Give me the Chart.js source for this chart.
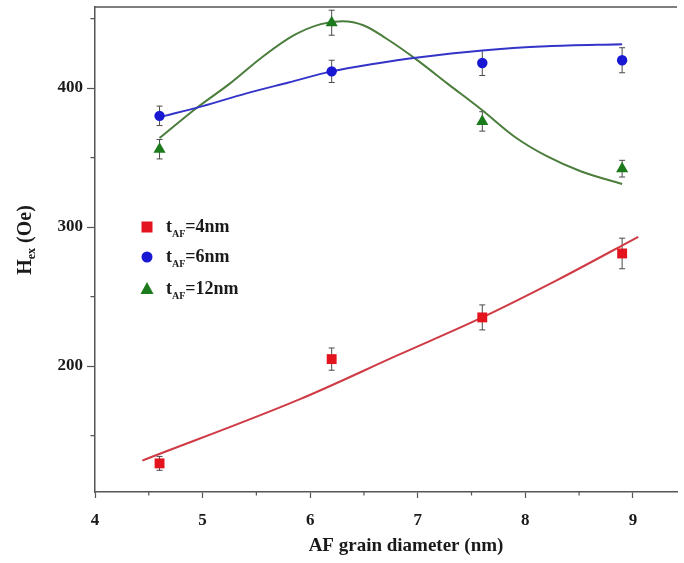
<!DOCTYPE html>
<html>
<head>
<meta charset="utf-8">
<script src="https://cdn.jsdelivr.net/npm/chart.js@4.4.0/dist/chart.umd.min.js"></script>
<style>
  html, body { margin: 0; padding: 0; background: #fff; }
  #box { width: 684px; height: 563px; }
</style>
</head>
<body>
<div id="box"><canvas id="grafico"></canvas></div>
<script>
// diametro do grao AF (nm), igual para as tres series
const diametro = [4.6, 6.2, 7.6, 8.9]

// Hex (Oe) e barras de erro para cada espessura tAF
const hex4 = [130, 205, 235, 281]
const err4 = [5, 8, 9, 11]
const hex6 = [380, 412, 418, 420]
const err6 = [7, 8, 9, 9]
const hex12 = [356, 447, 376, 342]
const err12 = [7, 9, 7, 6]

// curvas de ajuste, ponto a ponto
const fit4X = [4.44, 5.9, 6.82, 7.6, 8.3, 9.05]
const fit4Y = [132, 176, 208, 235, 262, 293]
const fit6X = [4.6, 5.0, 5.4, 5.8, 6.2, 6.6, 7.0, 7.6, 8.2, 8.9]
const fit6Y = [379, 387, 396, 404, 412, 417.5, 422, 427, 430, 431.5]
const fit12X = [4.6, 4.95, 5.25, 5.55, 5.85, 6.1, 6.3, 6.5, 6.7, 6.98, 7.28, 7.6, 7.9, 8.2, 8.52, 8.9]
const fit12Y = [364, 386, 403, 422, 438, 446, 448, 445, 436, 421, 403, 384, 365, 351, 340, 331]

const legendas = ['=4nm', '=6nm', '=12nm']
const xTicks = [4, 5, 6, 7, 8, 9]
const xMinor = [4.5, 5.5, 6.5, 7.5, 8.5]
const yTicks = [200, 300, 400]
const yMinor = [150, 250, 350, 450]

const serif = '"Liberation Serif", "Times New Roman", serif'
const corEixo = '#555'
const corTexto = '#1a1a1a'
const cores = ['#e3141e', '#1818d2', '#1b7a1b']
const coresLinha = ['#cf3a44', '#3434c8', '#4b7d3c']

const pontos = (xs, ys) => xs.map((x, i) => ({ x: x, y: ys[i] }))

let series = [
  { vals: hex4, errs: err4, cor: cores[0], estilo: 'rect', raio: 7 },
  { vals: hex6, errs: err6, cor: cores[1], estilo: 'circle', raio: 5.2 },
  { vals: hex12, errs: err12, cor: cores[2], estilo: 'triangle', raio: 7 }
]

let datasets = series.map(s => ({
  data: pontos(diametro, s.vals),
  showLine: false,
  pointStyle: s.estilo,
  pointRadius: s.raio,
  pointBackgroundColor: s.cor,
  pointBorderWidth: 0,
  order: 1
}))

let ajustes = [[fit4X, fit4Y], [fit6X, fit6Y], [fit12X, fit12Y]]
ajustes.forEach((a, i) => {
  datasets.push({
    data: pontos(a[0], a[1]),
    showLine: true,
    borderColor: coresLinha[i],
    borderWidth: 2,
    pointRadius: 0,
    cubicInterpolationMode: 'monotone',
    order: 2
  })
})

// texto com subscrito: partes = [[texto, sub?], ...]
function textoSub(ctx, partes, x, y, tam, tamSub, alinhar) {
  let larg = 0
  partes.forEach(p => {
    ctx.font = 'bold ' + (p[1] ? tamSub : tam) + 'px ' + serif
    larg += ctx.measureText(p[0]).width
  })
  let cx = alinhar === 'center' ? x - larg / 2 : x
  partes.forEach(p => {
    ctx.font = 'bold ' + (p[1] ? tamSub : tam) + 'px ' + serif
    ctx.fillText(p[0], cx, p[1] ? y + tam * 0.3 : y)
    cx += ctx.measureText(p[0]).width
  })
}

const extras = {
  id: 'extras',
  beforeDatasetsDraw(chart) {
    const ctx = chart.ctx
    const sx = chart.scales.x, sy = chart.scales.y
    ctx.save()
    ctx.strokeStyle = '#4a4a4a'
    ctx.lineWidth = 1
    series.forEach(s => {
      diametro.forEach((d, i) => {
        const px = sx.getPixelForValue(d)
        const y1 = sy.getPixelForValue(s.vals[i] + s.errs[i])
        const y2 = sy.getPixelForValue(s.vals[i] - s.errs[i])
        ctx.beginPath()
        ctx.moveTo(px, y1); ctx.lineTo(px, y2)
        ctx.moveTo(px - 3, y1); ctx.lineTo(px + 3, y1)
        ctx.moveTo(px - 3, y2); ctx.lineTo(px + 3, y2)
        ctx.stroke()
      })
    })
    ctx.restore()
  },
  afterDraw(chart) {
    const ctx = chart.ctx
    const area = chart.chartArea
    const sx = chart.scales.x, sy = chart.scales.y
    ctx.save()

    // borda de cima e ticks menores
    ctx.strokeStyle = corEixo
    ctx.lineWidth = 1.5
    ctx.beginPath()
    ctx.moveTo(area.left, area.top); ctx.lineTo(area.right, area.top)
    ctx.stroke()
    ctx.lineWidth = 1.2
    ctx.beginPath()
    xMinor.forEach(v => {
      const px = sx.getPixelForValue(v)
      ctx.moveTo(px, area.bottom); ctx.lineTo(px, area.bottom + 3.5)
    })
    yMinor.forEach(v => {
      const py = sy.getPixelForValue(v)
      ctx.moveTo(area.left, py); ctx.lineTo(area.left - 4.5, py)
    })
    ctx.stroke()

    // legenda
    const linhas = [227, 257, 289]
    const mx = 147
    linhas.forEach((ly, i) => {
      ctx.fillStyle = cores[i]
      ctx.beginPath()
      if (i === 0) ctx.rect(mx - 5.5, ly - 5.5, 11, 11)
      else if (i === 1) ctx.arc(mx, ly, 5.5, 0, Math.PI * 2)
      else { ctx.moveTo(mx, ly - 7); ctx.lineTo(mx + 6.5, ly + 5); ctx.lineTo(mx - 6.5, ly + 5); ctx.closePath() }
      ctx.fill()
      ctx.fillStyle = corTexto
      ctx.textBaseline = 'alphabetic'
      ctx.textAlign = 'left'
      textoSub(ctx, [['t', false], ['AF', true], [legendas[i], false]], 166, ly + 5, 18, 10, 'left')
    })

    // titulo do eixo x
    ctx.fillStyle = corTexto
    ctx.textBaseline = 'middle'
    ctx.textAlign = 'center'
    ctx.font = 'bold 19px ' + serif
    ctx.fillText('AF grain diameter (nm)', 406, 546)

    // titulo do eixo y
    ctx.translate(26, 240)
    ctx.rotate(-Math.PI / 2)
    ctx.textAlign = 'left'
    textoSub(ctx, [['H', false], ['ex', true], [' (Oe)', false]], 0, 0, 20, 12, 'center')
    ctx.restore()
  }
}

const grafico = document.getElementById('grafico')

new Chart(grafico, {
  type: 'scatter',
  data: { datasets: datasets },
  plugins: [extras],
  options: {
    responsive: true,
    maintainAspectRatio: false,
    animation: false,
    layout: { padding: { top: 7, right: 1, left: 0, bottom: 0 } },
    plugins: { legend: { display: false }, tooltip: { enabled: false } },
    scales: {
      x: {
        type: 'linear',
        min: 4,
        max: 9.41,
        afterBuildTicks: s => { s.ticks = xTicks.map(v => ({ value: v })) },
        afterFit: s => { s.height = 71; s.paddingLeft = 0; s.paddingRight = 0 },
        grid: { drawOnChartArea: false, color: corEixo, tickLength: 6, tickWidth: 1.2 },
        border: { color: corEixo, width: 1.5 },
        ticks: { color: corTexto, padding: 12, maxRotation: 0, font: { family: serif, size: 17, weight: 'bold' } }
      },
      y: {
        type: 'linear',
        min: 109.4,
        max: 458.3,
        afterBuildTicks: s => { s.ticks = yTicks.map(v => ({ value: v })) },
        afterFit: s => { s.width = 95; s.paddingTop = 0; s.paddingBottom = 0 },
        grid: { drawOnChartArea: false, color: corEixo, tickLength: 8, tickWidth: 1.2 },
        border: { color: corEixo, width: 1.5 },
        ticks: { color: corTexto, padding: 4, font: { family: serif, size: 17, weight: 'bold' } }
      }
    }
  }
})
</script>
</body>
</html>
